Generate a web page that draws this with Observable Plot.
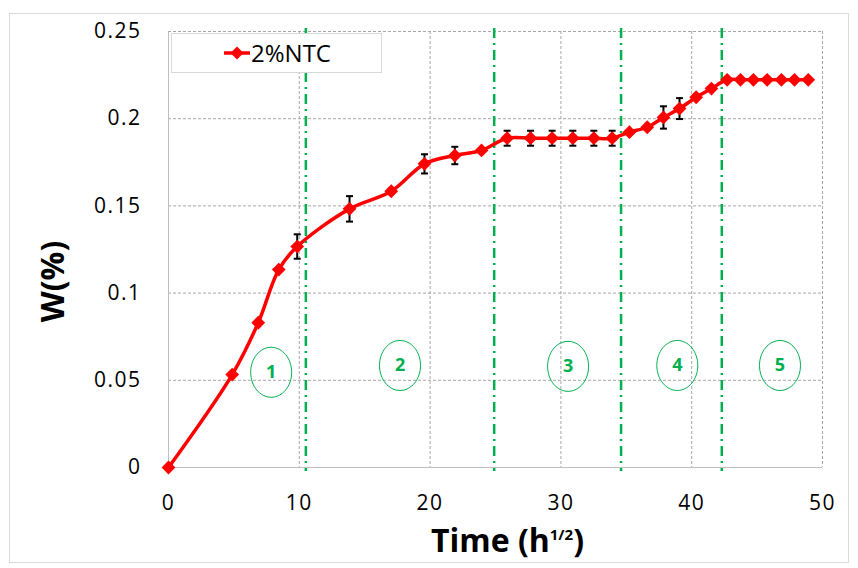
<!DOCTYPE html>
<html>
<head>
<meta charset="utf-8">
<script src="https://cdn.jsdelivr.net/npm/d3@7"></script>
<script src="https://cdn.jsdelivr.net/npm/@observablehq/plot@0.6"></script>
<style>
  html, body { margin: 0; padding: 0; background: #fff; }
  #wrap { position: relative; width: 858px; height: 568px; font-family: "Open Sans", sans-serif; }
  #border { position: absolute; left: 9px; top: 13px; width: 840px; height: 550px; border: 1px solid #d9d9d9; box-sizing: border-box; pointer-events: none; }
  #legend { position: absolute; left: 171px; top: 33px; width: 211px; height: 40px; border: 1px solid #d9d9d9; background: #fff; box-sizing: border-box; }
  #legend svg { position: absolute; left: 0; top: 0; }
  #legend span { position: absolute; left: 79px; top: 0px; line-height: 38px; font-size: 24px; color: #000; }
  .ticks text { letter-spacing: 1.5px; }
</style>
</head>
<body>
<div id="wrap">
  <div id="border"></div>
  <div id="chart"></div>
  <div id="legend">
    <svg width="90" height="38"><line x1="52" x2="78" y1="19" y2="19" stroke="#ff0000" stroke-width="3.5"></line><path d="M65,12.5L71.5,19L65,25.5L58.5,19Z" fill="#ff0000"></path></svg>
    <span id="legendText"></span>
  </div>
</div>
<script>
// ---- data ----
const seriesName = "2%NTC";
const time = [0, 4.87, 6.86, 8.43, 9.84, 13.84, 17.03, 19.57, 21.89, 23.93, 25.89, 27.68, 29.33, 30.91, 32.52, 33.92, 35.24, 36.6, 37.84, 39.07, 40.34, 41.51, 42.71, 43.73, 44.72, 45.77, 46.86, 47.86, 48.91];
const weight = [0, 0.0533, 0.083, 0.1135, 0.1267, 0.1483, 0.1584, 0.1741, 0.1789, 0.1818, 0.1888, 0.1888, 0.1888, 0.1888, 0.1888, 0.1888, 0.1923, 0.1951, 0.2007, 0.2058, 0.2123, 0.2173, 0.2223, 0.2223, 0.2223, 0.2223, 0.2223, 0.2223, 0.2223];
const errors = [0, 0, 0, 0, 0.007, 0.0073, 0, 0.0055, 0.005, 0, 0.0043, 0.0043, 0.0043, 0.0043, 0.0043, 0.0043, 0, 0, 0.0064, 0.006, 0, 0, 0, 0, 0, 0, 0, 0, 0];
const phaseBounds = [10.5, 24.9, 34.6, 42.3];
const phaseLabels = ["1", "2", "3", "4", "5"];
const phaseX = [7.85, 17.7, 30.55, 38.9, 46.75];
const phaseY = [0.0546, 0.0585, 0.058, 0.0585, 0.0585];
const xTicks = [0, 10, 20, 30, 40, 50];
const yTicks = [0, 0.05, 0.1, 0.15, 0.2, 0.25];
const xLabel = "Time (h1/2)";
const yLabel = "W(%)";

// ---- build ----
const rows = time.map((t, i) => ({t, w: weight[i], e: errors[i]}));
const errRows = rows.filter(d => d.e > 0);
const phases = phaseLabels.map((l, i) => ({l, x: phaseX[i], y: phaseY[i]}));

const capSymbol = {draw(ctx) { ctx.moveTo(-3.5, 0); ctx.lineTo(3.5, 0); }};
const ellipseSymbol = {draw(ctx) {
  const rx = 20.5, ry = 25, k = 0.5523;
  ctx.moveTo(rx, 0);
  ctx.bezierCurveTo(rx, ry * k, rx * k, ry, 0, ry);
  ctx.bezierCurveTo(-rx * k, ry, -rx, ry * k, -rx, 0);
  ctx.bezierCurveTo(-rx, -ry * k, -rx * k, -ry, 0, -ry);
  ctx.bezierCurveTo(rx * k, -ry, rx, -ry * k, rx, 0);
  ctx.closePath();
}};

const green = "#00b050";
const gridStyle = {stroke: "#a6a6a6", strokeOpacity: 1, strokeDasharray: "3,2", strokeWidth: 1};

const chart = Plot.plot({
  width: 858,
  height: 568,
  marginLeft: 168,
  marginRight: 36,
  marginTop: 31,
  marginBottom: 101,
  x: {domain: [0, 50]},
  y: {domain: [0, 0.25]},
  style: {fontFamily: "'Open Sans', sans-serif", color: "#000", background: "transparent", overflow: "visible"},
  marks: [
    Plot.gridX(xTicks.filter(t => t > 0), gridStyle),
    Plot.gridY(yTicks.filter(t => t > 0), gridStyle),
    Plot.ruleX([0], {stroke: "#bfbfbf", strokeWidth: 1}),
    Plot.ruleY([0], {stroke: "#bfbfbf", strokeWidth: 1}),
    Plot.axisX(xTicks, {tickSize: 0, tickPadding: 28, fontSize: 21, label: null, tickFormat: d => String(d), className: "ticks"}),
    Plot.axisY(yTicks, {tickSize: 0, tickPadding: 27, fontSize: 21, label: null, tickFormat: d => String(d), className: "ticks"}),
    Plot.ruleX(phaseBounds, {stroke: green, strokeWidth: 2.5, strokeDasharray: "10,5,2,5", insetTop: -3, insetBottom: -4}),
    Plot.dot(phases, {x: "x", y: "y", symbol: ellipseSymbol, stroke: green, strokeWidth: 1, fill: "none"}),
    Plot.text(phases, {x: "x", y: "y", text: "l", fill: green, fontSize: 18, fontWeight: "bold"}),
    Plot.ruleX(errRows, {x: "t", y1: d => d.w - d.e, y2: d => d.w + d.e, stroke: "#000", strokeWidth: 2}),
    Plot.dot(errRows, {x: "t", y: d => d.w + d.e, symbol: capSymbol, stroke: "#000", strokeWidth: 2, fill: "none"}),
    Plot.dot(errRows, {x: "t", y: d => d.w - d.e, symbol: capSymbol, stroke: "#000", strokeWidth: 2, fill: "none"}),
    Plot.line(rows, {x: "t", y: "w", stroke: "#ff0000", strokeWidth: 3.5, curve: "catmull-rom"}),
    Plot.dot(rows, {x: "t", y: "w", symbol: "diamond2", r: 6.2, fill: "#ff0000", stroke: "none"}),
    Plot.text([yLabel], {frameAnchor: "left", textAnchor: "middle", rotate: -90, dx: -115, dy: 32, fontSize: 32, fontWeight: "bold", lineAnchor: "middle"}),
    Plot.text([xLabel], {frameAnchor: "bottom", textAnchor: "middle", dx: 12, dy: 74, fontSize: 32, fontWeight: "bold", lineAnchor: "middle"})
  ]
});

document.getElementById("chart").appendChild(chart);
document.getElementById("legendText").textContent = seriesName;

// superscript in x label
d3.select(chart).selectAll("text").filter(function() { return this.textContent === xLabel; }).each(function() {
  const t = d3.select(this);
  const parts = xLabel.match(/^(.*h)(1\/2)(\))$/);
  t.text(parts[1]);
  t.append("tspan").attr("font-size", 15).attr("dy", -12).text(parts[2]);
  t.append("tspan").attr("dy", 12).text(parts[3]);
});
</script>
</body>
</html>
